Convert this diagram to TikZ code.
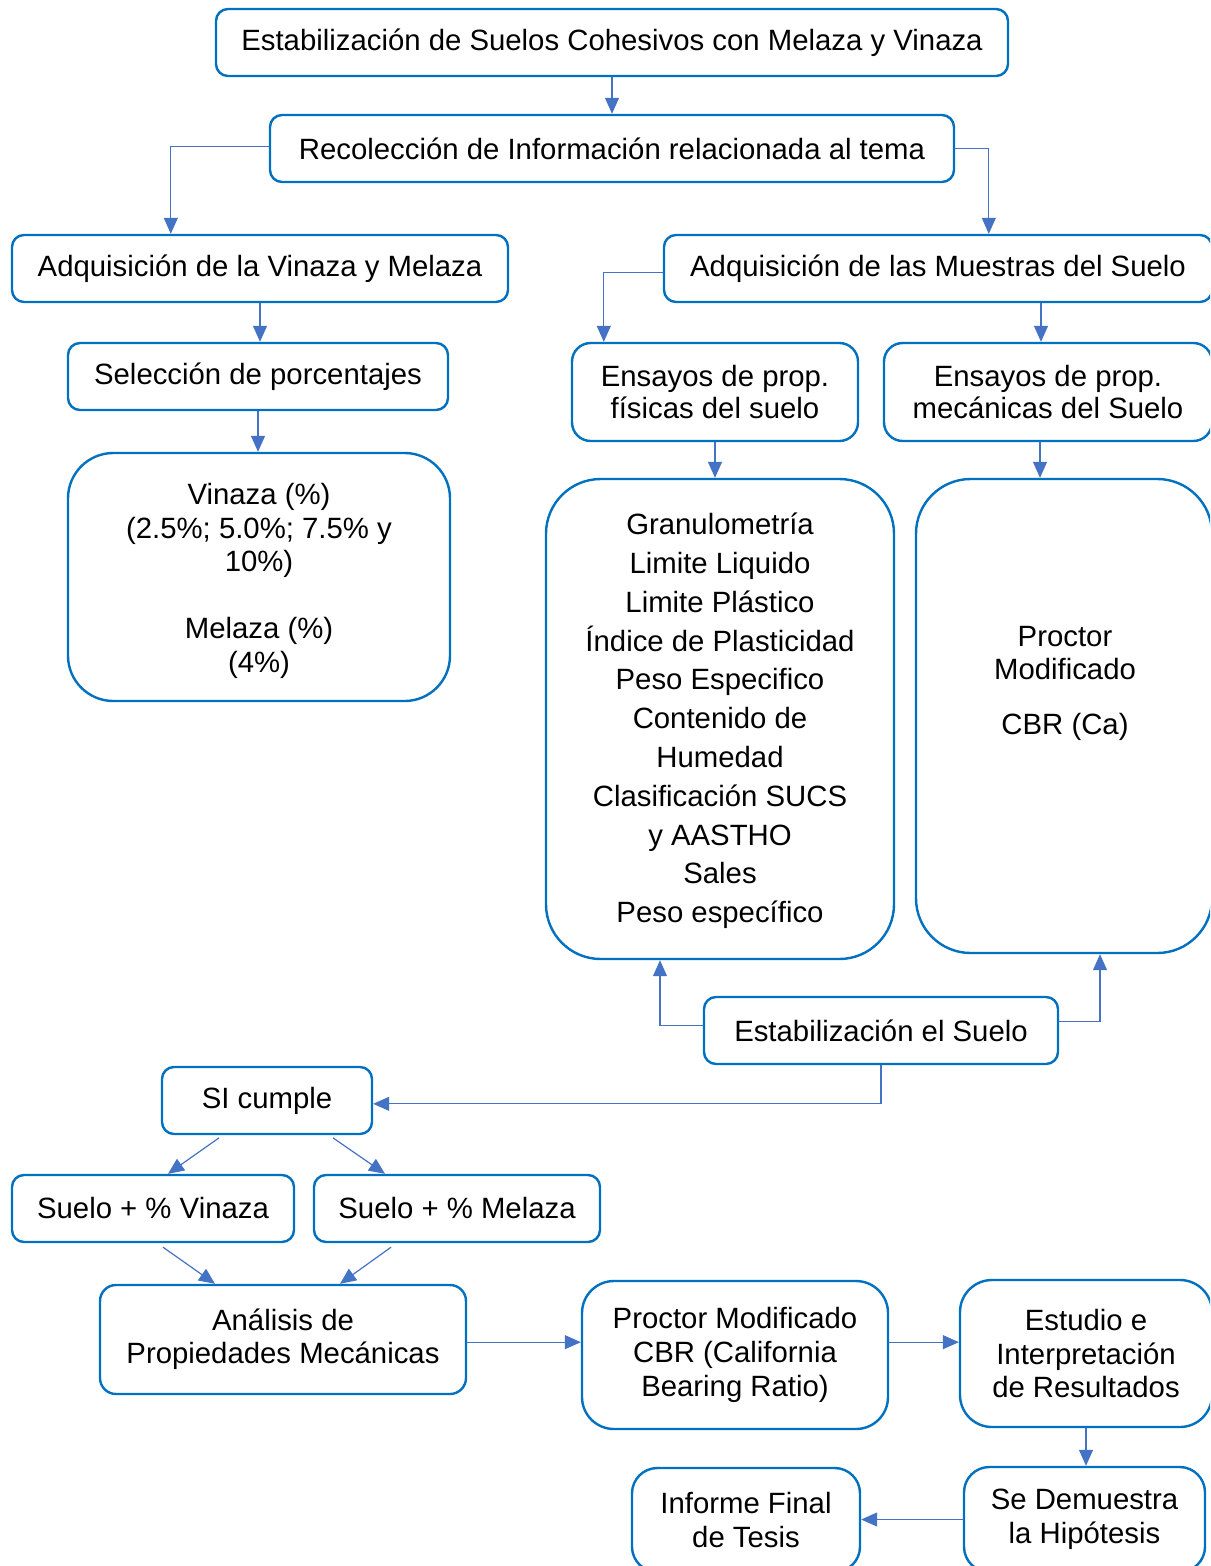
\documentclass[tikz,border=0pt]{standalone}
\usepackage{fontspec}
\setmainfont{Liberation Sans}
\usetikzlibrary{arrows.meta,calc}
\definecolor{boxblue}{HTML}{0070C0}
\definecolor{linkblue}{HTML}{4472C4}
\tikzset{
  box/.style={draw=boxblue, line width=1.8pt, align=center, inner sep=0pt, font=\fontsize{22}{25}\selectfont, text=black},
  lbl/.style={align=center, inner sep=0pt, font=\fontsize{22}{25}\selectfont, text=black},
  conn/.style={draw=linkblue, line width=0.9pt, -{Triangle[length=12pt,width=10.5pt]}},
}
\newcommand{\bx}[8][]{\node[box,#1, rounded corners=#7, minimum width={(#4-#2)*0.75pt}, minimum height={(#5-#3)*0.75pt}] (#6) at ({(#2+#4)/2},{(#3+#5)/2}) {#8};}
\begin{document}
\begin{tikzpicture}[x=0.75pt,y=-0.75pt]
\useasboundingbox (0,0) rectangle (1210,1566);
\fill[white] (0,0) rectangle (1210,1566);
\clip (0,0) rectangle (1210,1566);

\bx{216}{9}{1008}{76}{title}{9pt}{Estabilización de Suelos Cohesivos con Melaza y Vinaza}
\bx{270}{115}{954}{182}{rec}{9pt}{Recolección de Información relacionada al tema}
\bx{12}{235}{508}{302}{adqvm}{9pt}{Adquisición de la Vinaza y Melaza}
\bx{664}{235}{1212}{302}{adqm}{9pt}{Adquisición de las Muestras del Suelo}
\bx{68}{343}{448}{410}{sel}{9pt}{Selección de porcentajes}
\bx{68}{453}{450}{701}{vin}{34pt}{}
\node[lbl, font=\fontsize{22}{25.2}\selectfont] (vintxt) at (259,581) {Vinaza (\%)\\(2.5\%; 5.0\%; 7.5\% y\\10\%)\\[25.2pt]Melaza (\%)\\(4\%)};
\bx[font=\fontsize{22}{24}\selectfont]{572}{343}{858}{441}{fis}{14pt}{Ensayos de prop.\\físicas del suelo}
\bx[font=\fontsize{22}{24}\selectfont]{884}{343}{1212}{441}{mec}{14pt}{Ensayos de prop.\\mecánicas del Suelo}
\bx{546}{479}{894}{959}{gran}{41pt}{}
\node[lbl, font=\fontsize{22}{29.1}\selectfont] (grantxt) at (720,721) {Granulometría\\Limite Liquido\\Limite Plástico\\Índice de Plasticidad\\Peso Especifico\\Contenido de\\Humedad\\Clasificación SUCS\\y AASTHO\\Sales\\Peso específico};
\bx{916}{479}{1212}{953}{proc}{41pt}{}
\node[lbl] (proctxt) at (1065,683) {Proctor\\Modificado\\[16pt]CBR (Ca)};
\bx{704}{997}{1058}{1064}{est}{9pt}{Estabilización el Suelo}
\bx{162}{1067}{372}{1134}{si}{9pt}{SI cumple}
\bx{12}{1175}{294}{1242}{vin2}{9pt}{Suelo + \% Vinaza}
\bx{314}{1175}{600}{1242}{mel}{9pt}{Suelo + \% Melaza}
\bx{100}{1285}{466}{1394}{ana}{12pt}{Análisis de\\Propiedades Mecánicas}
\bx[font=\fontsize{22}{25.5}\selectfont]{582}{1281}{888}{1429}{pm}{24pt}{Proctor Modificado\\CBR (California\\Bearing Ratio)}
\bx{960}{1280}{1212}{1427}{est2}{24pt}{Estudio e\\Interpretación\\de Resultados}
\bx[font=\fontsize{22}{25.5}\selectfont]{964}{1467}{1205}{1572}{dem}{19pt}{Se Demuestra\\la Hipótesis}
\bx[font=\fontsize{22}{25.5}\selectfont]{632}{1468}{860}{1572}{inf}{19pt}{Informe Final\\de Tesis}

\coordinate (mecIn) at ([xshift=-5.25pt]mec.north);
\coordinate (procIn) at ([xshift=-18pt]proc.north);
\coordinate (granUp) at ([xshift=-45pt]gran.south);
\coordinate (procUp) at ([xshift=27pt]proc.south);
\coordinate (recL) at ([yshift=1.5pt]rec.west);
\coordinate (estL) at ([yshift=4pt]est.west);
\coordinate (estR) at ([yshift=7pt]est.east);
\coordinate (siIn) at ([yshift=-2.5pt]si.east);
\coordinate (anaR) at ([yshift=-2pt]ana.east);

\draw[conn] (title.south) -- (title.south |- rec.north);
\draw[conn] (recL) -| ([xshift=120pt]adqvm.north west);
\draw[conn] (rec.east) -| ([xshift=244.5pt]adqm.north west);
\draw[conn] (adqvm.south) -- (adqvm.south |- sel.north);
\draw[conn] (sel.south) -- (sel.south |- vin.north);
\draw[conn] ([yshift=-3pt]adqm.west) -| ([xshift=24.75pt]fis.north west);
\draw[conn] (mecIn |- adqm.south) -- (mecIn);
\draw[conn] (fis.south) -- (fis.south |- gran.north);
\draw[conn] (procIn |- mec.south) -- (procIn);
\draw[conn] (estL) -| (granUp);
\draw[conn] (estR) -| (procUp);
\draw[conn] (est.south) |- (siIn);
\draw[conn] ([xshift=-36pt,yshift=-2pt]si.south) -- ([xshift=11.25pt]vin2.north);
\draw[conn] ([xshift=49.5pt,yshift=-2pt]si.south) -- ([xshift=-54pt]mel.north);
\draw[conn] ([xshift=7.5pt,yshift=-3pt]vin2.south) -- ([xshift=-51pt]ana.north);
\draw[conn] ([xshift=-49.5pt,yshift=-3pt]mel.south) -- ([xshift=42.75pt]ana.north);
\draw[conn] (anaR) -- (anaR -| pm.west);
\draw[conn] (anaR -| pm.east) -- (anaR -| est2.west);
\draw[conn] (est2.south) -- (est2.south |- dem.north);
\draw[conn] (dem.west) -- (dem.west -| inf.east);
\end{tikzpicture}
\end{document}
